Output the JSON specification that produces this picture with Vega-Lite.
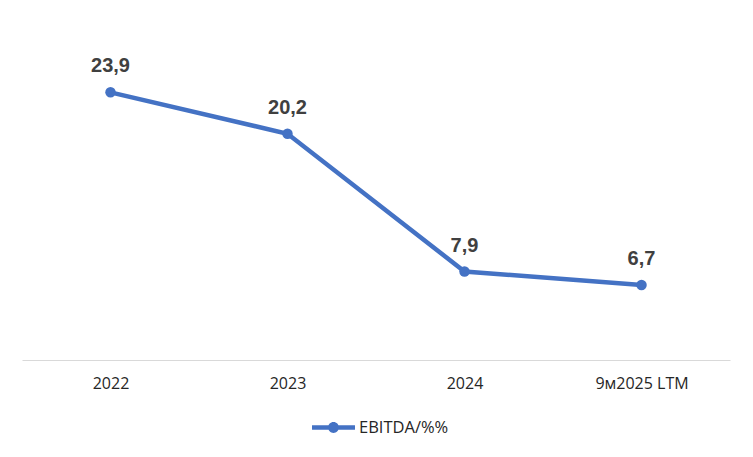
{
  "$schema": "https://vega.github.io/schema/vega-lite/v6.json",
  "width": 708,
  "height": 336,
  "autosize": {"type": "none"},
  "padding": {"left": 22, "top": 24, "right": 23, "bottom": 97},
  "background": "white",
  "config": {"view": {"stroke": null}, "font": "Liberation Sans"},
  "data": {"values": [
    {"period": "2022", "value": 23.9, "label": "23,9", "series": "EBITDA/%%"},
    {"period": "2023", "value": 20.2, "label": "20,2", "series": "EBITDA/%%"},
    {"period": "2024", "value": 7.9, "label": "7,9", "series": "EBITDA/%%"},
    {"period": "9м2025 LTM", "value": 6.7, "label": "6,7", "series": "EBITDA/%%"}
  ]},
  "encoding": {
    "x": {"field": "period", "type": "nominal", "sort": null,
      "scale": {"paddingInner": 0, "paddingOuter": 0},
      "axis": {"title": null, "labelAngle": 0, "domainColor": "#d9d9d9", "domainWidth": 1, "ticks": false,
        "labelFontSize": 16, "labelColor": "#262626", "labelPadding": 15, "labelFont": "Open Sans"}},
    "y": {"field": "value", "type": "quantitative", "scale": {"domain": [0, 30]}, "axis": null}
  },
  "layer": [
    {"mark": {"type": "line", "color": "#4472c4", "strokeWidth": 4.5}},
    {"mark": {"type": "point", "filled": true, "size": 110, "opacity": 1},
      "encoding": {"color": {"field": "series", "type": "nominal", "scale": {"range": ["#4472c4"]},
        "legend": {"title": null, "orient": "none", "legendX": 297, "legendY": 389, "padding": 0, "direction": "horizontal",
          "symbolType": "M -1.5 -0.16 H 1.5 V 0.16 H -1.5 Z M -0.38 0 A 0.38 0.38 0 1 1 0.38 0 A 0.38 0.38 0 1 1 -0.38 0 Z",
          "symbolSize": 820, "symbolStrokeWidth": 0, "symbolOpacity": 1,
          "labelFontSize": 16.5, "labelColor": "#262626", "labelFont": "Open Sans", "labelOffset": 11}}}},
    {"mark": {"type": "text", "dy": -26, "fontSize": 20, "fontWeight": "bold", "color": "#404040", "font": "Liberation Sans"},
      "encoding": {"text": {"field": "label"}}}
  ]
}
